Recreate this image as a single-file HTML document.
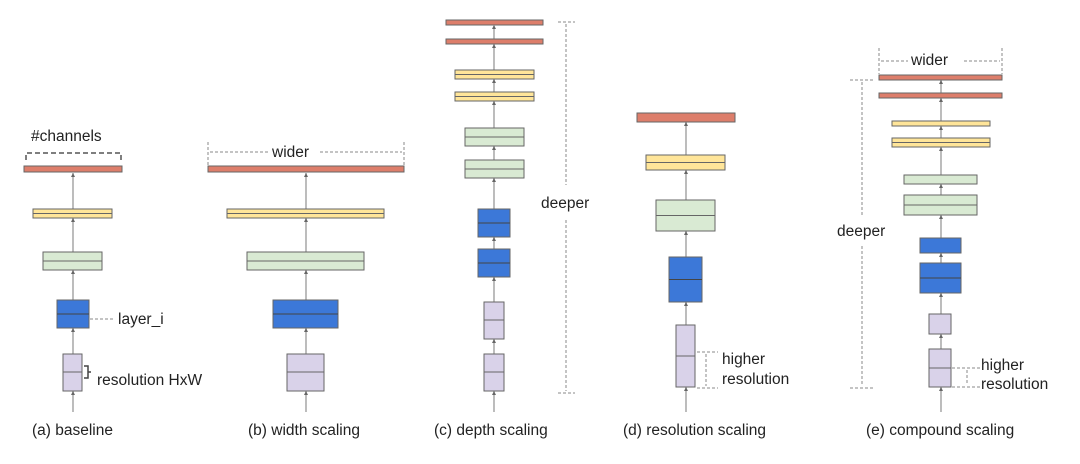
<!DOCTYPE html><html><head><style>body{margin:0;background:#fff}svg{display:block}text{font-family:"Liberation Sans",sans-serif;fill:#222}</style></head><body>
<svg width="1080" height="464" viewBox="0 0 1080 464" xmlns="http://www.w3.org/2000/svg">
<g stroke="#999" stroke-width="1.3">
<line x1="73" y1="412" x2="73" y2="173"/><line x1="306" y1="412" x2="306" y2="173"/><line x1="494" y1="412" x2="494" y2="26"/><line x1="686" y1="412" x2="686" y2="122"/><line x1="941" y1="412" x2="941" y2="80"/>
</g>
<g fill="#666">
<path d="M73,173l-2,4h4z M73,218l-2,4h4z M73,270l-2,4h4z M73,328l-2,4h4z M73,391l-2,4h4z"/>
<path d="M306,173l-2,4h4z M306,218l-2,4h4z M306,270l-2,4h4z M306,328l-2,4h4z M306,391l-2,4h4z"/>
<path d="M494,25l-2,4h4z M494,44l-2,4h4z M494,79l-2,4h4z M494,101l-2,4h4z M494,146l-2,4h4z M494,178l-2,4h4z M494,237l-2,4h4z M494,277l-2,4h4z M494,339l-2,4h4z M494,391l-2,4h4z"/>
<path d="M686,122l-2,4h4z M686,170l-2,4h4z M686,231l-2,4h4z M686,302l-2,4h4z M686,387l-2,4h4z"/>
<path d="M941,80l-2,4h4z M941,98l-2,4h4z M941,126l-2,4h4z M941,147l-2,4h4z M941,184l-2,4h4z M941,215l-2,4h4z M941,253l-2,4h4z M941,293l-2,4h4z M941,334l-2,4h4z M941,387l-2,4h4z"/>
</g>
<g stroke="#666" stroke-width="1">
<rect x="24" y="166" width="98" height="6" fill="#dd7e6b"/>
<rect x="33" y="209" width="79" height="9" fill="#ffe599"/><line x1="33" y1="213.5" x2="112" y2="213.5"/>
<rect x="43" y="252" width="59" height="18" fill="#d9ead3"/><line x1="43" y1="261" x2="102" y2="261"/>
<rect x="57" y="300" width="32" height="28" fill="#3c78d8"/><line x1="57" y1="314" x2="89" y2="314" stroke="#444"/>
<rect x="63" y="354" width="19" height="37" fill="#d9d2e9"/><line x1="63" y1="372" x2="82" y2="372"/>
<rect x="208" y="166" width="196" height="6" fill="#dd7e6b"/>
<rect x="227" y="209" width="157" height="9" fill="#ffe599"/><line x1="227" y1="213.5" x2="384" y2="213.5"/>
<rect x="247" y="252" width="117" height="18" fill="#d9ead3"/><line x1="247" y1="261" x2="364" y2="261"/>
<rect x="273" y="300" width="65" height="28" fill="#3c78d8"/><line x1="273" y1="314" x2="338" y2="314" stroke="#444"/>
<rect x="287" y="354" width="37" height="37" fill="#d9d2e9"/><line x1="287" y1="372" x2="324" y2="372"/>
<rect x="446" y="20" width="97" height="5" fill="#dd7e6b"/><rect x="446" y="39" width="97" height="5" fill="#dd7e6b"/>
<rect x="455" y="70" width="79" height="9" fill="#ffe599"/><line x1="455" y1="74.5" x2="534" y2="74.5"/>
<rect x="455" y="92" width="79" height="9" fill="#ffe599"/><line x1="455" y1="96.5" x2="534" y2="96.5"/>
<rect x="465" y="128" width="59" height="18" fill="#d9ead3"/><line x1="465" y1="137" x2="524" y2="137"/>
<rect x="465" y="160" width="59" height="18" fill="#d9ead3"/><line x1="465" y1="169" x2="524" y2="169"/>
<rect x="478" y="209" width="32" height="28" fill="#3c78d8"/><line x1="478" y1="223" x2="510" y2="223" stroke="#444"/>
<rect x="478" y="249" width="32" height="28" fill="#3c78d8"/><line x1="478" y1="263" x2="510" y2="263" stroke="#444"/>
<rect x="484" y="302" width="20" height="37" fill="#d9d2e9"/><line x1="484" y1="320" x2="504" y2="320"/>
<rect x="484" y="354" width="20" height="37" fill="#d9d2e9"/><line x1="484" y1="372" x2="504" y2="372"/>
<rect x="637" y="113" width="98" height="9" fill="#dd7e6b"/>
<rect x="646" y="155" width="79" height="15" fill="#ffe599"/><line x1="646" y1="162.5" x2="725" y2="162.5"/>
<rect x="656" y="200" width="59" height="31" fill="#d9ead3"/><line x1="656" y1="215.5" x2="715" y2="215.5"/>
<rect x="669" y="257" width="33" height="45" fill="#3c78d8"/><line x1="669" y1="279.5" x2="702" y2="279.5" stroke="#444"/>
<rect x="676" y="325" width="19" height="62" fill="#d9d2e9"/><line x1="676" y1="356" x2="695" y2="356"/>
<rect x="879" y="75" width="123" height="5" fill="#dd7e6b"/><rect x="879" y="93" width="123" height="5" fill="#dd7e6b"/>
<rect x="892" y="121" width="98" height="5" fill="#ffe599"/>
<rect x="892" y="138" width="98" height="9" fill="#ffe599"/><line x1="892" y1="142.5" x2="990" y2="142.5"/>
<rect x="904" y="175" width="73" height="9" fill="#d9ead3"/>
<rect x="904" y="195" width="73" height="20" fill="#d9ead3"/><line x1="904" y1="205" x2="977" y2="205"/>
<rect x="920" y="238" width="41" height="15" fill="#3c78d8"/>
<rect x="920" y="263" width="41" height="30" fill="#3c78d8"/><line x1="920" y1="278" x2="961" y2="278" stroke="#444"/>
<rect x="929" y="314" width="22" height="20" fill="#d9d2e9"/>
<rect x="929" y="349" width="22" height="38" fill="#d9d2e9"/><line x1="929" y1="368" x2="951" y2="368"/>
</g>
<g stroke="#888" stroke-width="1" stroke-dasharray="3,2" fill="none">
<path d="M26,160V153H121V160" stroke="#555" stroke-width="1.5" stroke-dasharray="5,3"/>
<line x1="208" y1="142" x2="208" y2="165"/><line x1="404" y1="142" x2="404" y2="165"/>
<line x1="210" y1="152" x2="268" y2="152"/><line x1="320" y1="152" x2="402" y2="152"/>
<line x1="558" y1="22" x2="575" y2="22"/><line x1="558" y1="393" x2="575" y2="393"/>
<line x1="566" y1="24" x2="566" y2="185"/><line x1="566" y1="220" x2="566" y2="391"/>
<line x1="90" y1="319" x2="113" y2="319"/>
<line x1="697" y1="352" x2="718" y2="352"/><line x1="697" y1="388" x2="718" y2="388"/><line x1="706" y1="354" x2="706" y2="386"/>
<line x1="879" y1="48" x2="879" y2="74"/><line x1="1002" y1="48" x2="1002" y2="74"/>
<line x1="881" y1="61" x2="908" y2="61"/><line x1="964" y1="61" x2="1000" y2="61"/>
<line x1="850" y1="80" x2="873" y2="80"/><line x1="850" y1="388" x2="873" y2="388"/>
<line x1="862" y1="82" x2="862" y2="215"/><line x1="862" y1="246" x2="862" y2="386"/>
<line x1="952" y1="368" x2="980" y2="368"/><line x1="952" y1="387" x2="980" y2="387"/><line x1="967" y1="370" x2="967" y2="385"/>
</g>
<path d="M84,366h4v6h3h-3v6h-4" stroke="#444" fill="none" stroke-width="1.5"/>
<g font-size="15.5">
<text x="31" y="141">#channels</text>
<text x="118" y="324">layer_i</text>
<text x="97" y="385">resolution HxW</text>
<text x="272" y="157">wider</text>
<text x="541" y="208">deeper</text>
<text x="722" y="364">higher</text><text x="722" y="384">resolution</text>
<text x="911" y="65">wider</text>
<text x="837" y="236">deeper</text>
<text x="981" y="370">higher</text><text x="981" y="389">resolution</text>
<text x="32" y="435">(a) baseline</text>
<text x="248" y="435">(b) width scaling</text>
<text x="434" y="435">(c) depth scaling</text>
<text x="623" y="435">(d) resolution scaling</text>
<text x="866" y="435">(e) compound scaling</text>
</g>
</svg></body></html>
